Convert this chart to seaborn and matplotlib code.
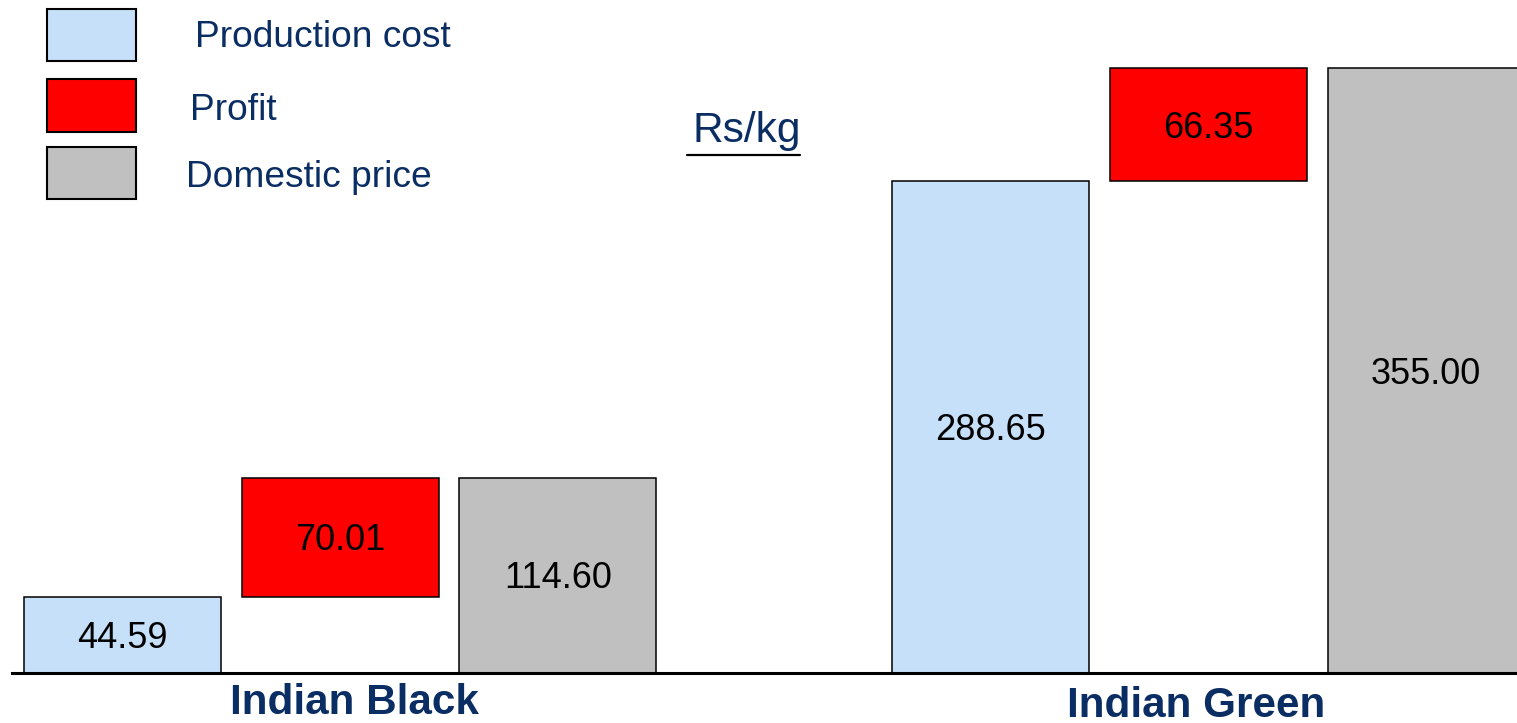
import numpy as np
import pandas as pd
import matplotlib
matplotlib.use("Agg")
import matplotlib.pyplot as plt
from matplotlib.patches import Rectangle
from matplotlib.lines import Line2D
import seaborn as sns

# Tea price build-up (Rs/kg)
teas = ["Indian Black", "Indian Green"]
components = ["Production cost", "Profit", "Domestic price"]
production_cost = [44.59, 288.65]
profit = [70.01, 66.35]
domestic_price = [114.60, 355.00]

colors = {"Production cost": "#C6E0FA", "Profit": "#FF0000", "Domestic price": "#C0C0C0"}
NAVY = "#0A2D63"

sns.set_theme(style="white")
plt.rcParams["font.family"] = ["Liberation Sans", "DejaVu Sans"]

df = pd.DataFrame({
    "tea": teas * len(components),
    "component": np.repeat(components, len(teas)),
    "value": production_cost + profit + domestic_price,
})

W, H = 1517, 723
fig = plt.figure(figsize=(W / 100, H / 100), dpi=100)
ax = fig.add_axes([12 / W, 50 / H, 1 - 12 / W, 1 - 50 / H])

sns.barplot(data=df, x="tea", y="value", hue="component", order=teas,
            hue_order=components, palette=colors, saturation=1,
            width=0.752, gap=0.095, edgecolor="black", linewidth=1.1,
            errorbar=None, legend=False, ax=ax)

# Waterfall: the profit segment sits on top of the production cost
for patch, base in zip(ax.containers[1], production_cost):
    patch.set_y(base)

# Value labels centred in each bar
series_values = [production_cost, profit, domestic_price]
for container, vals in zip(ax.containers, series_values):
    for patch, v in zip(container, vals):
        cx = patch.get_x() + patch.get_width() / 2
        cy = patch.get_y() + patch.get_height() / 2
        ax.annotate(f"{v:.2f}", (cx, cy), xytext=(0, -9.3),
                    textcoords="offset points", ha="center", va="baseline",
                    fontsize=26, color="black")

ax.set_xlim(-0.3777, 1.3552)
ax.set_ylim(0, 395.2)
ax.set_xticks([])
ax.set_yticks([])
ax.set_xlabel("")
ax.set_ylabel("")
for side in ("top", "left", "right"):
    ax.spines[side].set_visible(False)
ax.spines["bottom"].set_linewidth(2.2)
ax.spines["bottom"].set_color("black")

# Category names
fig.text(354 / W, 1 - 714 / H, teas[0], ha="center", va="baseline",
         fontsize=30.4, fontweight="bold", color=NAVY)
fig.text(1196 / W, 1 - 717 / H, teas[1], ha="center", va="baseline",
         fontsize=30.4, fontweight="bold", color=NAVY)

# Unit label with underline
fig.text(692 / W, 1 - 142 / H, "Rs/kg", ha="left", va="baseline",
         fontsize=30.5, color=NAVY)
fig.add_artist(Line2D([687 / W, 800 / W], [1 - 155 / H, 1 - 155 / H],
                      transform=fig.transFigure, color="black", linewidth=1.6))

# Legend drawn as boxes with labels
legend_boxes = [(9, 61), (79, 132), (147, 199)]
legend_text = [(195, 47), (190, 120), (186, 187)]
for comp, (top, bot), (tx, ty) in zip(components, legend_boxes, legend_text):
    fig.add_artist(Rectangle((47 / W, 1 - bot / H), 89 / W, (bot - top) / H,
                             transform=fig.transFigure, facecolor=colors[comp],
                             edgecolor="black", linewidth=1.5))
    fig.text(tx / W, 1 - ty / H, comp, ha="left", va="baseline",
             fontsize=26.7, color=NAVY)

fig.savefig("out.png", dpi=100)
